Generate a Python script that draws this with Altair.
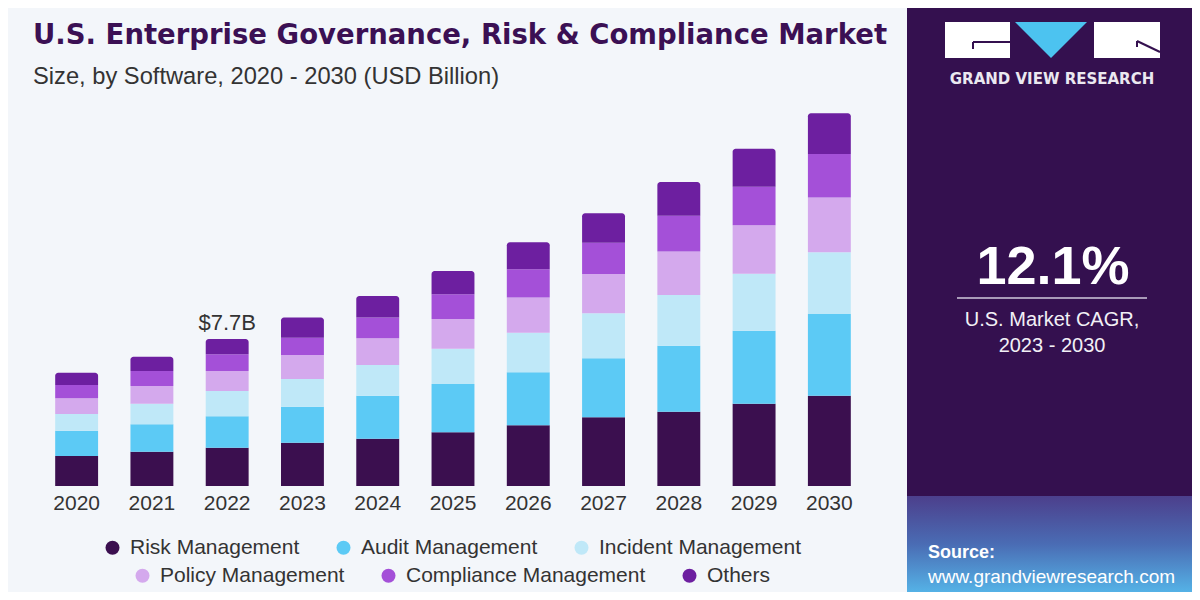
import altair as alt
import pandas as pd

# ---------------- data ----------------
years = ["2020", "2021", "2022", "2023", "2024", "2025", "2026", "2027", "2028", "2029", "2030"]
segments = ["Risk Management", "Audit Management", "Incident Management",
            "Policy Management", "Compliance Management", "Others"]
risk = [1.57, 1.80, 2.01, 2.27, 2.48, 2.82, 3.19, 3.61, 3.90, 4.32, 4.74]
audit = [1.33, 1.44, 1.65, 1.89, 2.26, 2.54, 2.78, 3.10, 3.46, 3.83, 4.29]
incident = [0.88, 1.08, 1.33, 1.45, 1.61, 1.84, 2.08, 2.36, 2.66, 2.99, 3.24]
policy = [0.82, 0.93, 1.05, 1.26, 1.40, 1.56, 1.84, 2.06, 2.29, 2.54, 2.87]
compliance = [0.70, 0.79, 0.88, 0.91, 1.10, 1.31, 1.49, 1.64, 1.87, 2.03, 2.28]
others = [0.65, 0.75, 0.79, 1.07, 1.12, 1.21, 1.42, 1.54, 1.78, 1.99, 2.15]
colors = ["#3b0f4f", "#5ccaf5", "#bfe8f8", "#d4a9ed", "#a450d8", "#6d1fa0"]
label_year = "2022"

title_text = "U.S. Enterprise Governance, Risk & Compliance Market"
subtitle_text = "Size, by Software, 2020 - 2030 (USD Billion)"
cagr_value = "12.1%"
cagr_line1 = "U.S. Market CAGR,"
cagr_line2 = "2023 - 2030"
brand = "GRAND VIEW RESEARCH"
source_label = "Source:"
source_url = "www.grandviewresearch.com"

series = [risk, audit, incident, policy, compliance, others]
rows = []
for si, (seg, vals) in enumerate(zip(segments, series)):
    for y, v in zip(years, vals):
        rows.append({"year": y, "segment": seg, "value": v, "order": si})
df = pd.DataFrame(rows)
one = pd.DataFrame({"k": [0]})

# ---------------- styling ----------------
BG = "#f3f6fa"
PANEL = "#34104f"
TXT = "#333333"
FONT = "Liberation Sans"

W, H = 828, 386
PAD_L, PAD_T = 31, 92
TOTAL_W, TOTAL_H = 1184, 584

xscale = alt.Scale(domain=years, paddingInner=0.43, paddingOuter=0.215)
yscale = alt.Scale(domain=[0, 20.26], nice=False, zero=True)
xaxis = alt.Axis(title=None, labelAngle=0, domain=False, ticks=False, grid=False,
                 labelFontSize=21, labelFont=FONT, labelColor=TXT, labelPadding=6)


def X():
    return alt.X("year:N", scale=xscale, axis=xaxis)


color_full = alt.Color("segment:N", scale=alt.Scale(domain=segments, range=colors), legend=None)

base = alt.Chart(df).transform_calculate(order="datum.order").transform_stack(
    stack="value", groupby=["year"], as_=["y0", "y1"],
    sort=[alt.SortField("order", order="ascending")])

bars_low = base.transform_filter("datum.order < 5").mark_bar().encode(
    x=X(), y=alt.Y("y0:Q", scale=yscale, axis=None), y2="y1:Q", color=color_full)
bars_top = base.transform_filter("datum.order == 5").mark_bar(
    cornerRadiusTopLeft=3, cornerRadiusTopRight=3).encode(
    x=X(), y=alt.Y("y0:Q", scale=yscale, axis=None), y2="y1:Q", color=color_full)

label = alt.Chart(df).transform_filter(alt.datum.year == label_year).transform_aggregate(
    total="sum(value)", groupby=["year"]).transform_calculate(
    txt="'$' + format(datum.total, '.1f') + 'B'").mark_text(
    font=FONT, fontSize=22, color=TXT, baseline="alphabetic", dy=-9).encode(
    x=X(), y=alt.Y("total:Q", scale=yscale, axis=None), text="txt:N")


def legend_layer(segs, cols, lx, ly):
    return alt.Chart(df).transform_filter(
        alt.FieldOneOfPredicate(field="segment", oneOf=segs)).mark_circle(opacity=0, size=1).encode(
        x=X(), y=alt.Y("value:Q", scale=yscale, axis=None),
        color=alt.Color("segment:N", scale=alt.Scale(domain=segs, range=cols),
                        legend=alt.Legend(orient="none", legendX=lx, legendY=ly, direction="horizontal",
                                          title=None, symbolType="circle", symbolSize=196,
                                          symbolOpacity=1, symbolStrokeWidth=0,
                                          labelFontSize=21, labelFont=FONT, labelColor=TXT,
                                          labelOffset=7, columnPadding=33, padding=0,
                                          labelLimit=400)))


leg1 = legend_layer(segments[:3], colors[:3], 63, 437)
leg2 = legend_layer(segments[3:], colors[3:], 93, 465)


def rect(x1, x2, y1, y2, fill):
    return alt.Chart(one).mark_rect(fill=fill).encode(
        x=alt.value(x1), x2=alt.value(x2), y=alt.value(y1), y2=alt.value(y2))


def text(t, x, y, size, color, weight="normal", align="center", font=FONT, baseline="middle"):
    return alt.Chart(one).mark_text(text=t, fontSize=size, color=color, fontWeight=weight,
                                    align=align, font=font, baseline=baseline).encode(
        x=alt.value(x), y=alt.value(y))


def rule(x1, y1, x2, y2, color, w):
    return alt.Chart(one).mark_rule(color=color, strokeWidth=w).encode(
        x=alt.value(x1), y=alt.value(y1), x2=alt.value(x2), y2=alt.value(y2))


panel_right = TOTAL_W - PAD_L
panel_bottom = TOTAL_H - PAD_T
panel = rect(868, panel_right, -PAD_T, panel_bottom, PANEL)
grad = alt.Chart(one).mark_rect(
    fill=alt.Gradient(gradient="linear", x1=0, y1=0, x2=0, y2=1,
                      stops=[alt.GradientStop(offset=0, color="#4c3f8c"),
                             alt.GradientStop(offset=0.5, color="#4a6cb4"),
                             alt.GradientStop(offset=1, color="#55b2e6")])).encode(
    x=alt.value(868), x2=alt.value(panel_right), y=alt.value(396), y2=alt.value(panel_bottom))

logo_l = rect(906, 971, -78, -42, "white")
logo_r = rect(1055, 1121, -78, -42, "white")
tri = alt.Chart(one).mark_point(shape="M -1 -0.5 L 1 -0.5 L 0 0.5 Z", filled=True, size=5184,
                                color="#4cc3f0", opacity=1, strokeWidth=0).encode(
    x=alt.value(1012), y=alt.value(-60))
g1 = rule(934, -58, 971, -58, PANEL, 2)
g2 = rule(934, -58, 934, -51, PANEL, 2)
r1 = rule(1098, -59, 1121, -48, PANEL, 2)
r2 = rule(1098, -59, 1098, -53, PANEL, 2)

brand_t = text(brand, 1013, -21, 15, "#ebe8f0", weight="bold", font="DejaVu Sans")
cagr_t = text(cagr_value, 1014, 168, 54, "white", weight="bold")
cagr_rule = rule(918, 198, 1108, 198, "#cfc8db", 1.5)
cagr_l1 = text(cagr_line1, 1013, 220, 20, "#f2f0f6")
cagr_l2 = text(cagr_line2, 1013, 246, 20, "#f2f0f6")
src1 = text(source_label, 889, 453, 18, "white", weight="bold", align="left")
src2 = text(source_url, 889, 477, 19, "white", align="left")

title_t = text(title_text, -6, -56, 27.5, "#3b1054", weight="bold", align="left",
               font="DejaVu Sans", baseline="alphabetic")
sub_t = text(subtitle_text, -6, -16, 23.7, TXT, align="left", baseline="alphabetic")

chart = alt.layer(
    panel, grad, bars_low, bars_top, label, leg1, leg2,
    logo_l, logo_r, tri, g1, g2, r1, r2, brand_t, cagr_t, cagr_rule, cagr_l1, cagr_l2,
    src1, src2, title_t, sub_t
).resolve_scale(color="independent").properties(
    width=W, height=H,
    autosize=alt.AutoSizeParams(type="none"),
    padding={"left": PAD_L, "top": PAD_T, "right": TOTAL_W - PAD_L - W, "bottom": TOTAL_H - PAD_T - H},
    background=BG,
).configure_view(stroke=None)

chart.save("out.html", embed_options={"renderer": "svg", "actions": False})
